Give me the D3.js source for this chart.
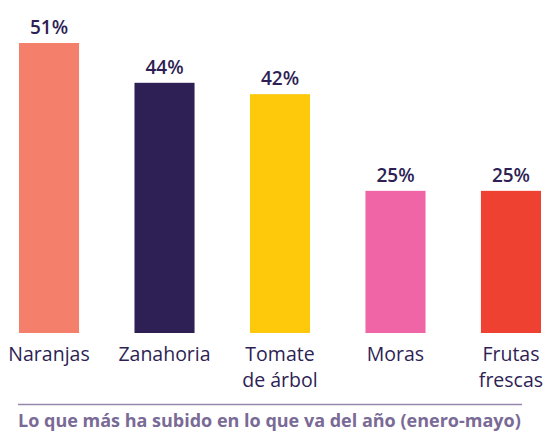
<!DOCTYPE html>
<html>
<head>
<meta charset="utf-8">
<script src="https://cdn.jsdelivr.net/npm/d3@7"></script>
<style>
  body { margin: 0; background: #fff; }
  svg { display: block; font-family: "Open Sans", Lato, sans-serif; }
</style>
</head>
<body>
<div id="main"></div>
<script>
// data
var categories = ["Naranjas", "Zanahoria", "Tomate\nde árbol", "Moras", "Frutas\nfrescas"];
var values = [51, 44, 42, 25, 25];
var colors = ["#f47f6b", "#2e1f55", "#fec90a", "#f065a5", "#ef4131"];
var footnote = "Lo que más ha subido en lo que va del año (enero-mayo)";

var ctx = {
    w: 547,
    h: 433,
    baseline: 333,
    top: 43,
    left: 19,
    right: 541,
    ink: "#2e1f55",
};

var createViz = function () {
    var svg = d3.select("#main").append("svg")
        .attr("width", ctx.w)
        .attr("height", ctx.h);

    var data = categories.map(function (c, i) {
        return { group: c, value: values[i], color: colors[i] };
    });

    var x = d3.scaleBand()
        .domain(categories)
        .range([ctx.left, ctx.right])
        .paddingInner(0.48)
        .paddingOuter(0);

    var y = d3.scaleLinear()
        .domain([0, 51])
        .range([ctx.baseline, ctx.top]);

    svg.selectAll("rect.bar")
        .data(data)
        .enter()
        .append("rect")
        .attr("class", "bar")
        .attr("x", function (d) { return x(d.group); })
        .attr("y", function (d) { return y(d.value); })
        .attr("width", x.bandwidth())
        .attr("height", function (d) { return ctx.baseline - y(d.value); })
        .attr("fill", function (d) { return d.color; });

    // value labels
    svg.selectAll("text.val")
        .data(data)
        .enter()
        .append("text")
        .attr("class", "val")
        .attr("x", function (d) { return x(d.group) + x.bandwidth() / 2; })
        .attr("y", function (d) { return y(d.value) - 9; })
        .attr("text-anchor", "middle")
        .attr("fill", ctx.ink)
        .style("font-size", "19px")
        .style("font-weight", 600)
        .text(function (d) { return d.value + "%"; });

    // category labels, one text per line
    var lines = [];
    data.forEach(function (d) {
        var cx = x(d.group) + x.bandwidth() / 2;
        d.group.split("\n").forEach(function (t, i) {
            lines.push({ t: t, x: cx, i: i });
        });
    });

    svg.selectAll("text.cat")
        .data(lines)
        .enter()
        .append("text")
        .attr("class", "cat")
        .attr("x", function (d) { return d.x; })
        .attr("y", function (d) { return 361 + d.i * 26; })
        .attr("text-anchor", "middle")
        .attr("fill", ctx.ink)
        .style("font-size", "19.5px")
        .style("font-weight", 500)
        .text(function (d) { return d.t; });

    // separator and footnote
    svg.append("line")
        .attr("x1", 18).attr("x2", 522)
        .attr("y1", 404.5).attr("y2", 404.5)
        .attr("stroke", "#9587ad")
        .attr("stroke-width", 1.5);

    svg.append("text")
        .attr("x", 18)
        .attr("y", 427)
        .attr("fill", "#7a6a96")
        .style("font-size", "18px")
        .style("font-weight", 700)
        .text(footnote);
};

createViz();
</script>
</body>
</html>
